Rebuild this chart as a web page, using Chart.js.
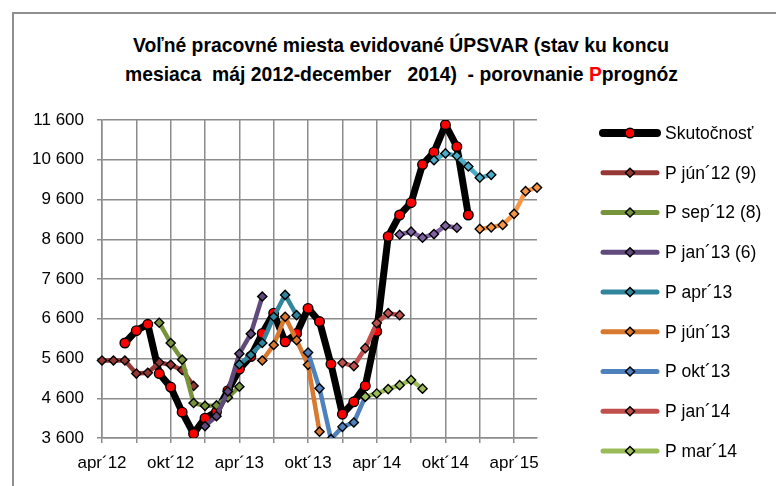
<!DOCTYPE html>
<html>
<head>
<meta charset="utf-8">
<script src="https://cdn.jsdelivr.net/npm/chart.js@4.4.0/dist/chart.umd.min.js"></script>
<style>
  html, body { margin: 0; padding: 0; background: #fff; overflow: hidden; }
  #frame { position: absolute; left: 12px; top: 12px; width: 800px; height: 500px; border: 2px solid #8f8f8f; }
  #title { position: absolute; left: 101px; width: 600px; top: 30px; text-align: center; white-space: pre;
           font: bold 21px 'Liberation Sans', Arial, sans-serif; line-height: 29px; color: #000;
           transform: scaleX(0.92); transform-origin: 50% 0; }
  #title .p { color: #ff0000; }
  canvas { position: absolute; left: 0; top: 0; }
</style>
</head>
<body>
<div id="frame"></div>
<div id="title">Voľné pracovné miesta evidované ÚPSVAR (stav ku koncu
mesiaca  máj 2012-december   2014)  - porovnanie <span class="p">P</span>prognóz</div>
<canvas id="chart" width="776" height="486"></canvas>
<script>
// months on the category axis (apr 2012 .. jún 2015)
const months = ['apr´12', 'máj´12', 'jún´12', 'júl´12', 'aug´12', 'sep´12', 'okt´12', 'nov´12', 'dec´12',
    'jan´13', 'feb´13', 'mar´13', 'apr´13', 'máj´13', 'jún´13', 'júl´13', 'aug´13', 'sep´13', 'okt´13', 'nov´13', 'dec´13',
    'jan´14', 'feb´14', 'mar´14', 'apr´14', 'máj´14', 'jún´14', 'júl´14', 'aug´14', 'sep´14', 'okt´14', 'nov´14', 'dec´14',
    'jan´15', 'feb´15', 'mar´15', 'apr´15', 'máj´15', 'jún´15'];
const yTicks = [3600, 4600, 5600, 6600, 7600, 8600, 9600, 10600, 11600];

// actual values, from jún´12
const skutocnost = [5990, 6300, 6460, 5220, 4880, 4250, 3710, 4100, 4260, 4790, 5330, 5650, 6230, 6740, 6020,
    6230, 6860, 6530, 5460, 4200, 4510, 4910, 6280, 8670, 9210, 9520, 10480, 10790, 11480, 10930, 9210];
// forecasts, each with the month where it starts
const pJun12 = [5550, 5550, 5550, 5220, 5240, 5500, 5440, 5310, 4910];   // apr´12
const pSep12 = [6500, 5990, 5570, 4480, 4410, 4420, 4620, 4890];         // sep´12
const pJan13 = [3900, 4150, 4770, 5720, 6220, 7160];                     // jan´13
const pApr13 = [5450, 5690, 5990, 6650, 7200, 6690];                     // apr´13
const pJun13 = [5550, 5940, 6650, 6060, 5440, 3760];                     // jún´13
const pOkt13 = [5750, 4850, 3570, 3880, 3990, 4640];                     // okt´13
const pJan14 = [5490, 5410, 5860, 6490, 6740, 6690];                     // jan´14
const pMar14 = [4640, 4720, 4830, 4930, 5060, 4840];                     // mar´14
// later forecasts (their legend entries are cut off in the original)
const pMaj14 = [8720, 8790, 8640, 8730, 8940, 8890];                     // jún´14
const pAug14 = [10590, 10760, 10700, 10430, 10150, 10220];               // sep´14
const pDec14 = [8860, 8900, 8960, 9240, 9810, 9900];                     // jan´15

function place(start, values) {
    const i = months.indexOf(start);
    const out = months.map(() => null);
    values.forEach((v, k) => { out[i + k] = v; });
    return out;
}

const gridGray = '#8c8c8c';
const sans = "'Liberation Sans', Arial, sans-serif";

function forecast(label, color, data, inLegend = true) {
    return {
        label, data, inLegend,
        borderColor: color, backgroundColor: color, borderWidth: 4.5,
        borderCapStyle: 'round', borderJoinStyle: 'round',
        pointStyle: 'rectRot', pointRadius: 4.6, pointHoverRadius: 4.6,
        pointBackgroundColor: color, pointBorderColor: '#000', pointBorderWidth: 1.4
    };
}

const datasets = [
    {
        label: 'Skutočnosť', data: place('jún´12', skutocnost), inLegend: true,
        borderColor: '#000', backgroundColor: '#000', borderWidth: 7,
        borderCapStyle: 'round', borderJoinStyle: 'round',
        pointStyle: 'circle', pointRadius: 4.8, pointHoverRadius: 4.8,
        pointBackgroundColor: '#ff0000', pointBorderColor: '#000', pointBorderWidth: 1.4
    },
    forecast('P jún´12 (9)', '#953735', place('apr´12', pJun12)),
    forecast('P sep´12 (8)', '#77933c', place('sep´12', pSep12)),
    forecast('P jan´13 (6)', '#604a7b', place('jan´13', pJan13)),
    forecast('P apr´13', '#31859c', place('apr´13', pApr13)),
    forecast('P jún´13', '#d9782f', place('jún´13', pJun13)),
    forecast('P okt´13', '#4f81bd', place('okt´13', pOkt13)),
    forecast('P jan´14', '#c0504d', place('jan´14', pJan14)),
    forecast('P mar´14', '#9bbb59', place('mar´14', pMar14)),
    forecast('P máj´14', '#8064a2', place('jún´14', pMaj14), false),
    forecast('P aug´14', '#4bacc6', place('sep´14', pAug14), false),
    forecast('P dec´14', '#f79646', place('jan´15', pDec14), false)
];
// excel draws later series on top
datasets.forEach((d, i) => { d.order = datasets.length - i; });

function drawMarker(ctx, d, x, y) {
    ctx.fillStyle = d.pointBackgroundColor;
    ctx.strokeStyle = d.pointBorderColor;
    ctx.lineWidth = d.pointBorderWidth;
    const r = d.pointRadius;
    ctx.beginPath();
    if (d.pointStyle === 'circle') {
        ctx.arc(x, y, r, 0, Math.PI * 2);
    } else {
        ctx.moveTo(x - r, y); ctx.lineTo(x, y - r); ctx.lineTo(x + r, y); ctx.lineTo(x, y + r); ctx.closePath();
    }
    ctx.fill();
    ctx.stroke();
}

// legend column to the right of the plot, one row per grid step
const sideLegend = {
    id: 'sideLegend',
    afterDraw(chart) {
        const { ctx, chartArea } = chart;
        const step = chartArea.height / (yTicks.length - 1);
        const x0 = chartArea.right + 66;
        ctx.save();
        chart.data.datasets.filter(d => d.inLegend).forEach((d, k) => {
            const y = chartArea.top + 13 + k * step;
            ctx.lineCap = 'round';
            ctx.strokeStyle = d.borderColor;
            ctx.lineWidth = d.borderWidth === 7 ? 8 : 5;
            ctx.beginPath();
            ctx.moveTo(x0, y);
            ctx.lineTo(x0 + 54, y);
            ctx.stroke();
            drawMarker(ctx, d, x0 + 27, y);
            ctx.fillStyle = '#000';
            ctx.font = '17.5px ' + sans;
            ctx.textBaseline = 'middle';
            ctx.fillText(d.label, x0 + 62, y + 1);
        });
        ctx.restore();
    }
};

new Chart(document.getElementById('chart'), {
    type: 'line',
    data: { labels: months, datasets },
    options: {
        responsive: false,
        animation: false,
        spanGaps: false,
        layout: { padding: { left: 30, right: 239, top: 120, bottom: 10 } },
        plugins: { legend: { display: false }, tooltip: { enabled: false } },
        scales: {
            x: {
                offset: false,
                grid: {
                    color: c => (c.index % 3 === 0 ? gridGray : 'rgba(0,0,0,0)'),
                    lineWidth: 1.5, tickLength: 5
                },
                border: { color: gridGray, width: 1.5 },
                ticks: {
                    autoSkip: false, maxRotation: 0, padding: 10, color: '#000',
                    font: { family: sans, size: 17 },
                    callback: (v, i) => (i % 6 === 0 ? months[i] : '')
                },
                afterFit: s => { s.height = 38; }
            },
            y: {
                min: yTicks[0], max: yTicks[yTicks.length - 1],
                afterBuildTicks: s => { s.ticks = yTicks.map(v => ({ value: v })); },
                grid: { color: gridGray, lineWidth: 1.5, tickLength: 5 },
                border: { color: gridGray, width: 1.5 },
                ticks: {
                    padding: 13, color: '#000',
                    font: { family: sans, size: 17 },
                    callback: v => String(v).replace(/\B(?=(\d{3})+$)/g, ' ')
                },
                afterFit: s => { s.width = 72; }
            }
        }
    },
    plugins: [sideLegend]
});
</script>
</body>
</html>
